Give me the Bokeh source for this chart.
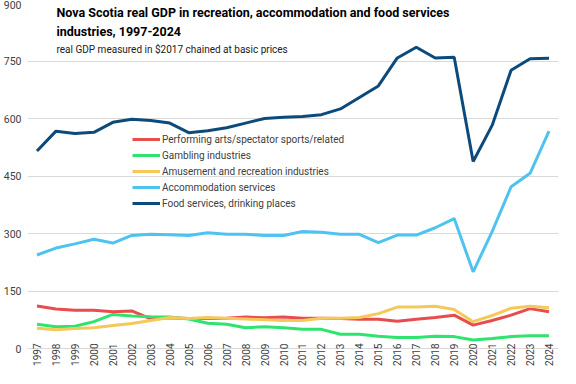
import math
from bokeh.plotting import figure
from bokeh.models import Label, Legend, LegendItem, FixedTicker, Range1d
from bokeh.embed import file_html
from bokeh.resources import INLINE

years = list(range(1997, 2025))

performing = [111, 103, 100, 100, 96, 98, 77, 80, 78, 78, 79, 82, 80, 82, 79, 79,
              78, 76, 76, 71, 76, 81, 87, 61, 73, 87, 104, 96]
gambling = [63, 57, 58, 70, 89, 85, 83, 82, 77, 66, 63, 54, 57, 54, 50, 50,
            37, 37, 32, 29, 29, 32, 31, 22, 26, 31, 33, 33]
amusement = [53, 49, 52, 54, 60, 65, 73, 81, 78, 81, 79, 77, 75, 73, 73, 79,
             79, 81, 91, 108, 108, 110, 102, 70, 86, 105, 110, 106]
accommodation = [244, 262, 273, 285, 275, 295, 298, 297, 295, 302, 298, 298, 295, 295, 305, 303,
                 298, 298, 276, 296, 296, 315, 339, 200, 305, 422, 457, 567]
food = [515, 567, 561, 564, 590, 598, 595, 588, 563, 568, 576, 588, 600, 603, 605, 610,
        625, 655, 685, 758, 786, 758, 760, 488, 582, 726, 756, 757]

series_names = ["Performing arts/spectator sports/related", "Gambling industries",
                "Amusement and recreation industries", "Accommodation services",
                "Food services, drinking places"]
series_values = [performing, gambling, amusement, accommodation, food]
colors = ["#e84c4c", "#2ee46e", "#f5c85a", "#4fc3f0", "#0d4a7c"]

y_ticks = [0, 150, 300, 450, 600, 750, 900]

title_lines = ["Nova Scotia real GDP in recreation, accommodation and food services",
               "industries, 1997-2024"]
subtitle = "real GDP measured in $2017 chained at basic prices"

FONT = "Roboto"

p = figure(width=560, height=368, output_backend="svg", toolbar_location=None,
           x_range=Range1d(1996.5, 2024.5), y_range=Range1d(0, 900),
           min_border_left=26, min_border_right=2, min_border_top=3, min_border_bottom=20)
p.outline_line_color = None

renderers = []
for name, vals, c in zip(series_names, series_values, colors):
    r = p.line(years, vals, line_color=c, line_width=3)
    renderers.append((name, r))

# axes
p.yaxis.ticker = FixedTicker(ticks=y_ticks)
p.xaxis.ticker = FixedTicker(ticks=years)
p.xaxis.major_label_orientation = math.pi / 2
p.xaxis.major_label_text_font = FONT
p.xaxis.major_label_text_font_size = "10px"
p.xaxis.major_label_text_color = "#404040"
p.xaxis.major_label_standoff = -5
p.xaxis.major_tick_out = 0
p.xaxis.major_tick_in = 0
p.yaxis.major_label_text_font = FONT
p.yaxis.major_label_text_font_size = "10.5px"
p.yaxis.major_label_text_color = "#404040"
p.yaxis.major_tick_out = 0
p.yaxis.major_tick_in = 0
p.yaxis.major_label_standoff = 6
p.yaxis.axis_line_color = None
p.yaxis.major_tick_line_color = None
p.yaxis.minor_tick_line_color = None
p.xaxis.axis_line_color = "#d9d9d9"
p.xaxis.major_tick_line_color = None
p.xaxis.minor_tick_line_color = None
p.xgrid.grid_line_color = None
p.ygrid.grid_line_color = "#d9d9d9"

legend = Legend(items=[LegendItem(label=n, renderers=[r]) for n, r in renderers],
                location=(105, 137), orientation="vertical")
legend.background_fill_alpha = 0
legend.border_line_alpha = 0
legend.padding = 0
legend.margin = 0
legend.spacing = 0
legend.label_height = 16
legend.glyph_height = 16
legend.glyph_width = 28
legend.label_standoff = 2
legend.label_text_font = FONT
legend.label_text_font_size = "10px"
legend.label_text_color = "#404040"
p.add_layout(legend, "center")

p.add_layout(Label(x=29, y=336, x_units="screen", y_units="screen", text=title_lines[0],
                   text_font=FONT, text_font_size="12.5px", text_font_style="bold",
                   text_color="#000000", text_baseline="middle"))
p.add_layout(Label(x=29, y=317, x_units="screen", y_units="screen", text=title_lines[1],
                   text_font=FONT, text_font_size="12.5px", text_font_style="bold",
                   text_color="#000000", text_baseline="middle"))
p.add_layout(Label(x=29, y=299, x_units="screen", y_units="screen", text=subtitle,
                   text_font=FONT, text_font_size="10px",
                   text_color="#202020", text_baseline="middle"))

open("out.html", "w").write(file_html(p, INLINE))
